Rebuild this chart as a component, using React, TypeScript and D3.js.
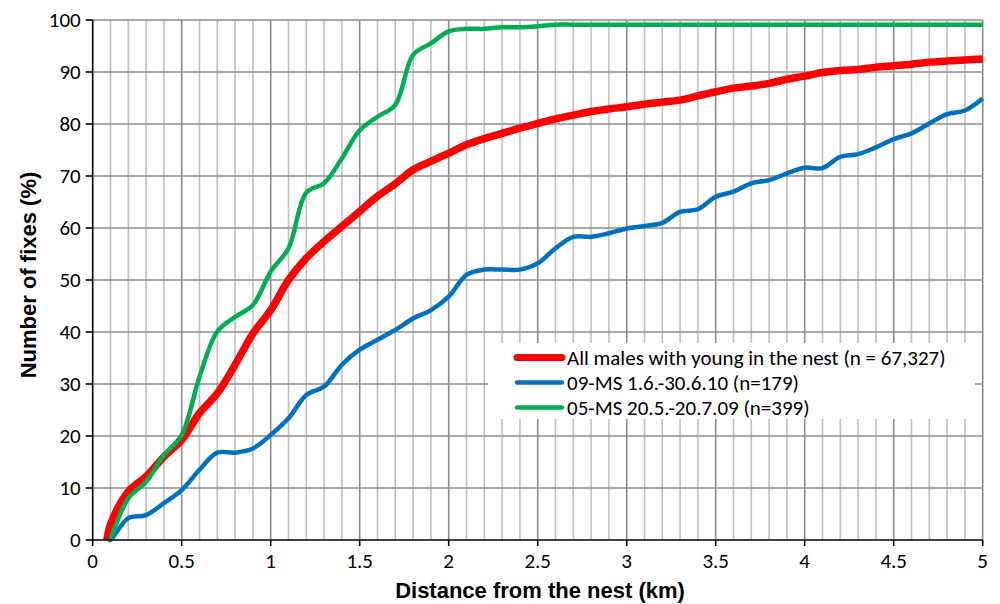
import React, { useRef, useEffect } from "react";
import * as d3 from "d3";

// distance bins (km)
const distKm = [
  0.1, 0.2, 0.3, 0.4, 0.5, 0.6, 0.7, 0.8, 0.9, 1.0,
  1.1, 1.2, 1.3, 1.4, 1.5, 1.6, 1.7, 1.8, 1.9, 2.0,
  2.1, 2.2, 2.3, 2.4, 2.5, 2.6, 2.7, 2.8, 2.9, 3.0,
  3.1, 3.2, 3.3, 3.4, 3.5, 3.6, 3.7, 3.8, 3.9, 4.0,
  4.1, 4.2, 4.3, 4.4, 4.5, 4.6, 4.7, 4.8, 4.9, 5.0,
];

// cumulative % of fixes
const allMales = [
  3, 9.3, 12.2, 16.0, 19.2, 24.4, 28.2, 33.7, 39.7, 44.2,
  50.0, 54.2, 57.4, 60.3, 63.2, 66.1, 68.5, 71.2, 72.8, 74.4,
  76.0, 77.2, 78.2, 79.2, 80.1, 81.0, 81.7, 82.4, 82.9, 83.3,
  83.8, 84.2, 84.6, 85.4, 86.2, 86.9, 87.3, 87.8, 88.6, 89.2,
  89.9, 90.3, 90.5, 90.9, 91.2, 91.5, 91.9, 92.1, 92.3, 92.5,
];

const ms09 = [
  0, 4.2, 4.8, 7.1, 9.6, 13.5, 16.8, 16.8, 17.6, 20.2,
  23.4, 27.9, 29.5, 33.7, 36.6, 38.5, 40.4, 42.6, 44.2, 46.8,
  51.0, 52.0, 52.0, 52.0, 53.2, 56.1, 58.3, 58.3, 59.0, 59.9,
  60.4, 61.0, 63.1, 63.6, 66.0, 67.0, 68.6, 69.2, 70.5, 71.6,
  71.5, 73.7, 74.2, 75.5, 77.1, 78.2, 80.1, 81.9, 82.6, 84.9,
];

const ms05 = [
  1.5, 8.0, 11.2, 16.3, 20.2, 31.4, 40.1, 42.9, 45.2, 51.6,
  56.1, 66.8, 68.6, 73.4, 78.8, 81.4, 83.7, 93.3, 95.5, 97.8,
  98.3, 98.3, 98.6, 98.6, 98.8, 99.1, 99.1, 99.1, 99.1, 99.1,
  99.1, 99.1, 99.1, 99.1, 99.1, 99.1, 99.1, 99.1, 99.1, 99.1,
  99.1, 99.1, 99.1, 99.1, 99.1, 99.1, 99.1, 99.1, 99.1, 99.1,
];

// where each curve leaves the x axis
const startKm = [0.08, 0.09, 0.1];

const seriesNames = [
  "All males with young in the nest (n = 67,327)",
  "09-MS 1.6.-30.6.10 (n=179)",
  "05-MS 20.5.-20.7.09 (n=399)",
];
const seriesValues = [allMales, ms09, ms05];
const seriesColors = ["#ff0000", "#0070c0", "#00b050"];
const seriesWidths = [7.5, 4.5, 4.5];

const xTickLabels = ["0", "0.5", "1", "1.5", "2", "2.5", "3", "3.5", "4", "4.5", "5"];
const yTickLabels = ["0", "10", "20", "30", "40", "50", "60", "70", "80", "90", "100"];

const tickFont = "Carlito, Calibri, 'Open Sans', sans-serif";
const titleFont = "'Liberation Sans', Arial, sans-serif";

function App() {
  const svgRef = useRef<SVGSVGElement>(null);

  useEffect(() => {
    const svg = d3.select(svgRef.current);
    svg.selectAll("*").remove();

    const left = 92.7;
    const right = 982.7;
    const top = 20;
    const bottom = 540;

    const x = d3.scaleLinear().domain([0, 5]).range([left, right]);
    const y = d3.scaleLinear().domain([0, 100]).range([bottom, top]);

    const grid = svg.append("g");

    // vertical grid every 0.1 km, darker every 0.5
    const minor = d3.range(1, 51).map((i) => i / 10);
    grid
      .selectAll(".vgrid")
      .data(minor)
      .join("line")
      .attr("class", "vgrid")
      .attr("x1", (d) => x(d))
      .attr("x2", (d) => x(d))
      .attr("y1", top)
      .attr("y2", bottom)
      .attr("stroke", (d, i) => ((i + 1) % 5 === 0 ? "#8c8c8c" : "#c0c0c0"))
      .attr("stroke-width", 1.6);

    // horizontal grid
    grid
      .selectAll(".hgrid")
      .data(yTickLabels.map(Number).filter((v) => v > 0))
      .join("line")
      .attr("class", "hgrid")
      .attr("x1", left)
      .attr("x2", right)
      .attr("y1", (d) => y(d))
      .attr("y2", (d) => y(d))
      .attr("stroke", "#8c8c8c")
      .attr("stroke-width", 1.6);

    // lines
    const line = d3
      .line<[number, number]>()
      .x((d) => x(d[0]))
      .y((d) => y(d[1]))
      .curve(d3.curveCatmullRom.alpha(0.5));

    seriesValues.forEach((vals, s) => {
      const pts: [number, number][] = [[startKm[s], 0]];
      distKm.forEach((k, i) => {
        if (k > startKm[s]) pts.push([k, vals[i]]);
      });
      svg
        .append("path")
        .datum(pts)
        .attr("d", line)
        .attr("fill", "none")
        .attr("stroke", seriesColors[s])
        .attr("stroke-width", seriesWidths[s])
        .attr("stroke-linejoin", "round");
    });

    // axes
    const axes = svg.append("g");
    axes
      .append("line")
      .attr("x1", left)
      .attr("x2", left)
      .attr("y1", top)
      .attr("y2", bottom)
      .attr("stroke", "#000")
      .attr("stroke-width", 1.6);
    axes
      .append("line")
      .attr("x1", left)
      .attr("x2", right)
      .attr("y1", bottom)
      .attr("y2", bottom)
      .attr("stroke", "#000")
      .attr("stroke-width", 1.6);

    axes
      .selectAll(".ytick")
      .data(yTickLabels)
      .join("line")
      .attr("class", "ytick")
      .attr("x1", left - 7)
      .attr("x2", left)
      .attr("y1", (d) => y(+d))
      .attr("y2", (d) => y(+d))
      .attr("stroke", "#000")
      .attr("stroke-width", 1.6);
    axes
      .selectAll(".ylabel")
      .data(yTickLabels)
      .join("text")
      .attr("class", "ylabel")
      .attr("x", left - 12)
      .attr("y", (d) => y(+d))
      .attr("dy", "0.35em")
      .attr("text-anchor", "end")
      .attr("font-family", tickFont)
      .attr("font-size", 21)
      .attr("fill", "#000")
      .text((d) => d);

    axes
      .selectAll(".xtick")
      .data(xTickLabels)
      .join("line")
      .attr("class", "xtick")
      .attr("x1", (d) => x(+d))
      .attr("x2", (d) => x(+d))
      .attr("y1", bottom)
      .attr("y2", bottom + 6)
      .attr("stroke", "#000")
      .attr("stroke-width", 1.6);
    axes
      .selectAll(".xlabel")
      .data(xTickLabels)
      .join("text")
      .attr("class", "xlabel")
      .attr("x", (d) => x(+d))
      .attr("y", 568)
      .attr("text-anchor", "middle")
      .attr("font-family", tickFont)
      .attr("font-size", 21)
      .attr("fill", "#000")
      .text((d) => d);

    // axis titles
    svg
      .append("text")
      .attr("x", 540)
      .attr("y", 598)
      .attr("text-anchor", "middle")
      .attr("font-family", titleFont)
      .attr("font-weight", "bold")
      .attr("font-size", 22)
      .text("Distance from the nest (km)");
    svg
      .append("text")
      .attr("transform", `translate(36, ${(top + bottom) / 2 - 5}) rotate(-90)`)
      .attr("text-anchor", "middle")
      .attr("font-family", titleFont)
      .attr("font-weight", "bold")
      .attr("font-size", 22)
      .text("Number of fixes (%)");

    // legend
    const legend = svg.append("g");
    legend
      .append("rect")
      .attr("x", 488)
      .attr("y", 343)
      .attr("width", 487)
      .attr("height", 76)
      .attr("fill", "#fff");
    seriesNames.forEach((name, i) => {
      const ly = 357.5 + i * 25;
      legend
        .append("line")
        .attr("x1", 517)
        .attr("x2", 562)
        .attr("y1", ly)
        .attr("y2", ly)
        .attr("stroke", seriesColors[i])
        .attr("stroke-width", i === 0 ? 7 : 4.5)
        .attr("stroke-linecap", "round");
      legend
        .append("text")
        .attr("x", 567)
        .attr("y", ly)
        .attr("dy", "0.35em")
        .attr("font-family", tickFont)
        .attr("font-size", 21)
        .attr("fill", "#000")
        .text(name);
    });
  }, []);

  return (
    <svg
      ref={svgRef}
      width={1000}
      height={604}
      style={{ position: "absolute", left: 0, top: 0, background: "#fff" }}
    ></svg>
  );
}

export default App;
